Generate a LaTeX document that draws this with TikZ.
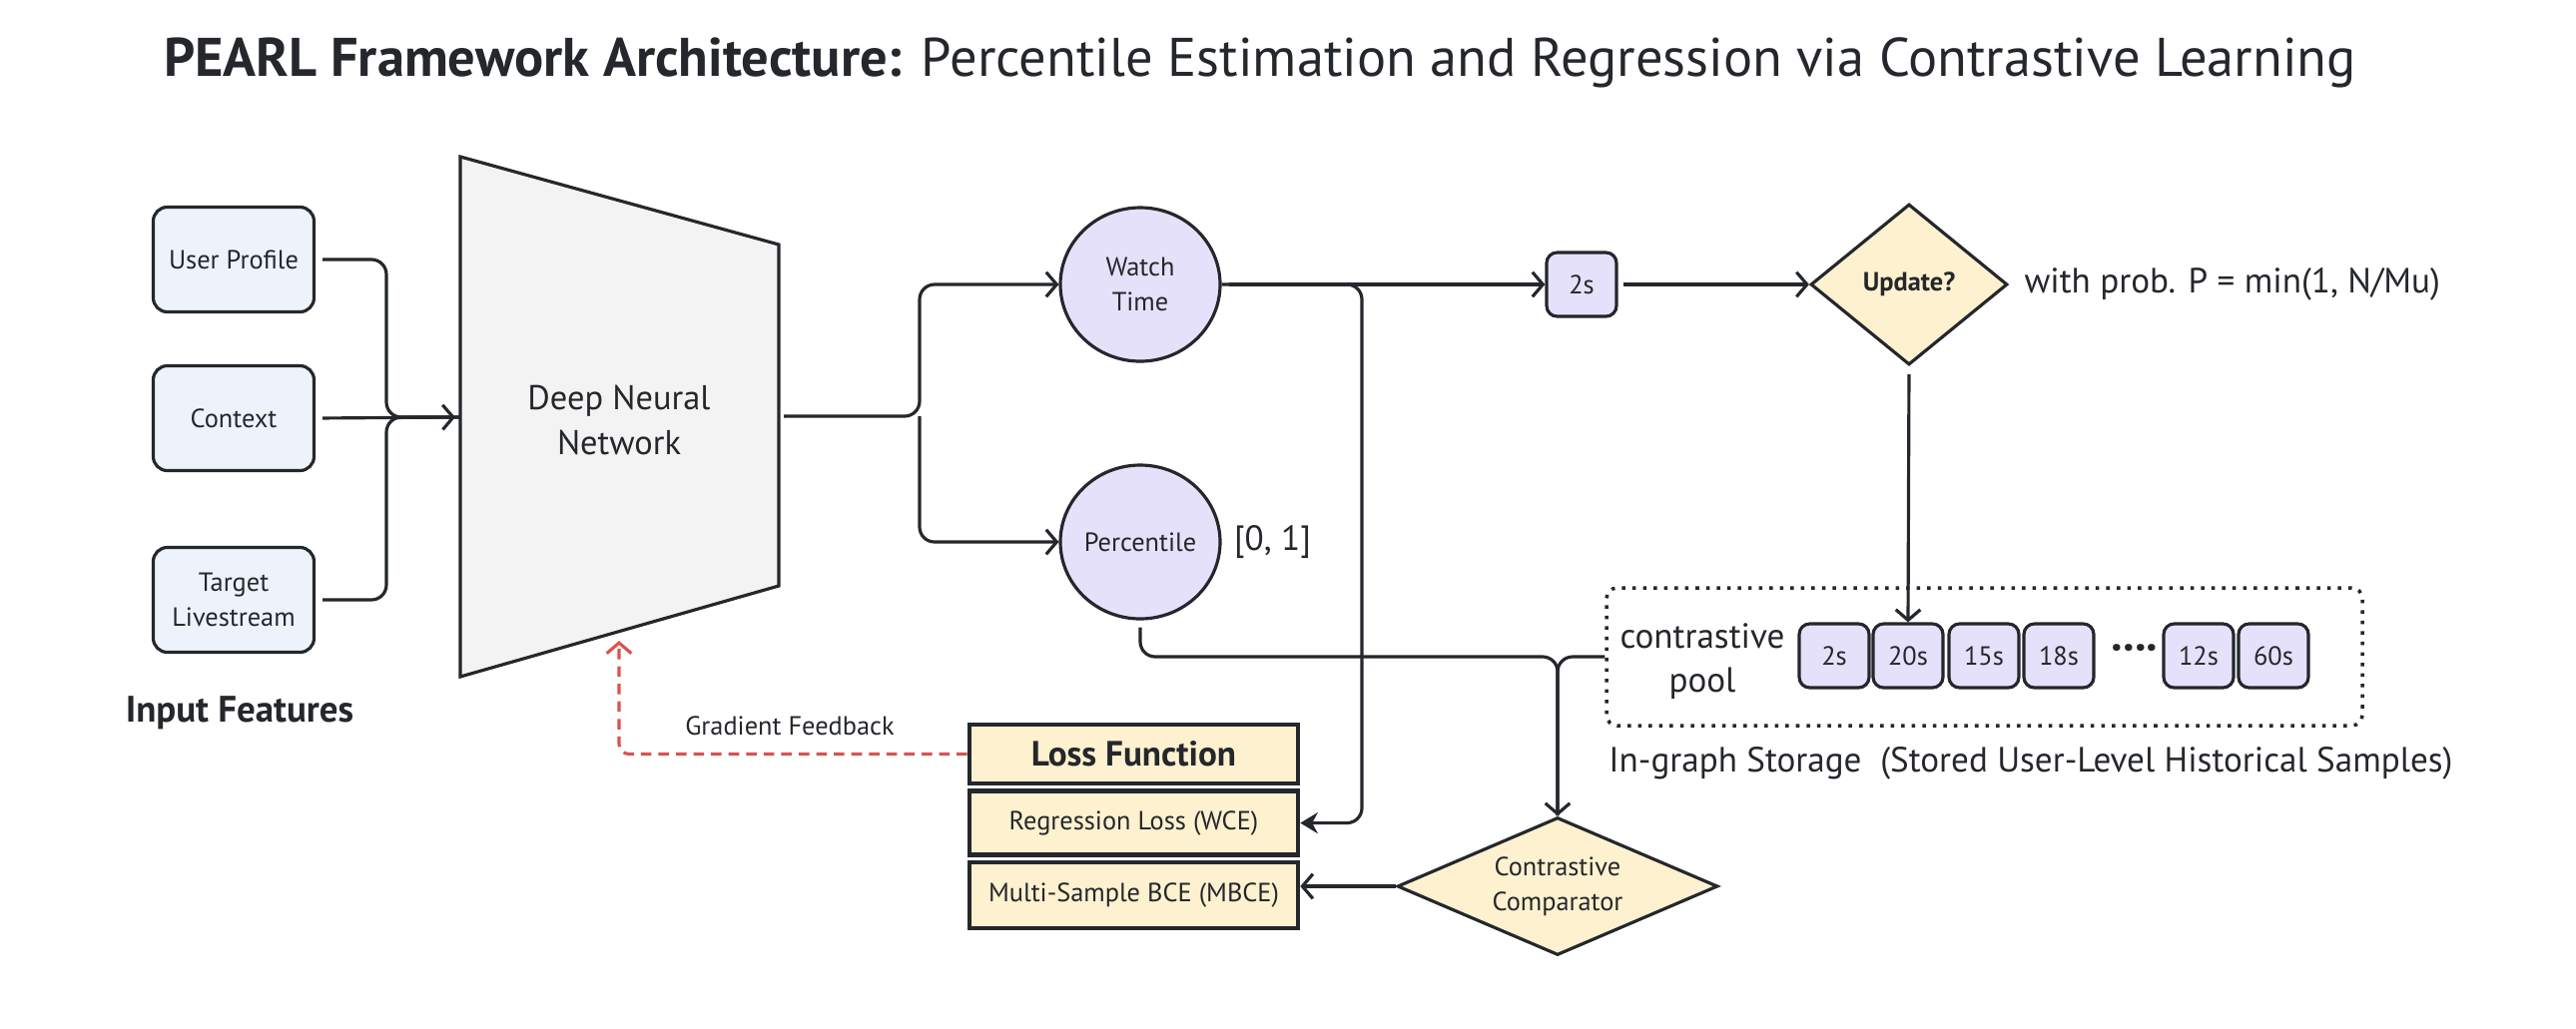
\documentclass[tikz,border=0pt]{standalone}
\usepackage{fontspec}
\setmainfont{PT Sans}
\usepackage{tikz}
\usetikzlibrary{arrows.meta, calc, positioning, shapes.geometric}
\definecolor{ink}{HTML}{24272B}
\definecolor{inputfill}{HTML}{EEF3FB}
\definecolor{headfill}{HTML}{E6E1FA}
\definecolor{decfill}{HTML}{FDF1CF}
\definecolor{dnnfill}{HTML}{F3F3F3}
\definecolor{gradred}{HTML}{D9534F}

\begin{document}
\begin{tikzpicture}[
  inbox/.style    = {draw=ink, fill=inputfill, rounded corners=4pt, line width=0.9pt, minimum width=1.61cm, minimum height=1.05cm, align=center, font=\fontsize{7.5}{10}\selectfont, text=ink},
  outcirc/.style  = {ellipse, draw=ink, fill=headfill, line width=0.9pt, minimum width=1.6cm, minimum height=1.54cm, inner sep=0pt, align=center, font=\fontsize{7.5}{10}\selectfont, text=ink},
  tagbox/.style   = {draw=ink, fill=headfill, rounded corners=3pt, line width=0.9pt, minimum width=0.7cm, minimum height=0.64cm, inner sep=0pt, font=\fontsize{7.5}{9}\selectfont, text=ink},
  decision/.style = {diamond, draw=ink, fill=decfill, line width=0.9pt, inner sep=0pt, align=center, font=\fontsize{7.5}{10}\selectfont, text=ink},
  lossbox/.style  = {draw=ink, fill=decfill, line width=1.3pt, minimum width=3.29cm, inner sep=0pt, font=\fontsize{7.5}{9}\selectfont, text=ink},
  arr/.style      = {-{Straight Barb[length=3pt,width=7pt]}, line width=0.9pt, draw=ink},
  arrfill/.style  = {-{Stealth[length=5pt,width=6pt]}, line width=0.9pt, draw=ink},
  wire/.style     = {line width=0.9pt, draw=ink},
  lbl/.style      = {font=\fontsize{10}{12.5}\selectfont, text=ink, align=center},
]
\useasboundingbox (0,0) rectangle (25.8,-10.3);

% title
\node[font=\fontsize{15.5}{19}\selectfont, text=ink] (title) at (12.62,-0.63) {\textbf{PEARL Framework Architecture:} Percentile Estimation and Regression via Contrastive Learning};

% inputs
\node[inbox] (user) at (2.34,-2.60) {User Profile};
\node[inbox] (ctx) at (2.34,-4.19) {Context};
\node[inbox] (target) at (2.34,-6.01) {Target\\Livestream};
\node[lbl, font=\fontsize{10.5}{12}\selectfont\bfseries] (inlbl) at (2.40,-7.14) {Input Features};

% network
\coordinate (tl) at (4.61,-1.57);
\coordinate (tr) at (7.80,-2.45);
\coordinate (br) at (7.80,-5.87);
\coordinate (bl) at (4.61,-6.78);
\draw[fill=dnnfill, draw=ink, line width=0.9pt] (tl) -- (tr) -- (br) -- (bl) -- cycle;
\node[lbl, font=\fontsize{9.8}{13}\selectfont] (dnn) at (6.20,-4.21) {Deep Neural\\Network};
\coordinate (dnnin) at (4.61,-4.18);
\coordinate (dnnout) at (7.80,-4.17);
\coordinate (join) at (3.87,-4.18);
\coordinate (gradin) at (6.20,-6.42);

\draw[wire, rounded corners=0.15cm, shorten <=0.07cm] (user.east) -| (join) -- (dnnin);
\draw[wire, rounded corners=0.15cm, shorten <=0.07cm] (target.east) -| (join) -- (dnnin);
\draw[arr, shorten <=0.07cm, shorten >=0.05cm] (ctx.east) -- (dnnin);

% heads
\node[outcirc] (watch) at (11.42,-2.85) {Watch\\Time};
\node[outcirc] (perc) at (11.42,-5.43) {Percentile};
\node[lbl, right=0cm of perc] (range) {[0, 1]};
\coordinate (split) at (9.21,-4.17);
\draw[arr, rounded corners=0.15cm, shorten <=0.05cm] (dnnout) -- (split) |- (watch.west);
\draw[arr, rounded corners=0.15cm] (split) |- (perc.west);

% update path
\node[tagbox] (cur) at (15.84,-2.85) {2s};
\node[decision, minimum width=1.97cm, minimum height=1.61cm, font=\fontsize{7.5}{10}\selectfont\bfseries] (upd) at (19.12,-2.85) {Update?};
\node[lbl, right=0.03cm of upd] (prob) {with prob. P = min(1, N/Mu)};
\coordinate (tap) at (13.64,-2.85);
\draw[arr, shorten <=0.07cm] (watch.east) -- (cur.west);
\draw[arr, shorten <=0.05cm] (cur.east) -- (upd.west);

% contrastive pool
\node[draw=ink, dotted, line width=1pt, rounded corners=3pt, minimum width=7.57cm, minimum height=1.38cm] (pool) at (19.875,-6.58) {};
\node[lbl] (poollbl) at (17.05,-6.63) {contrastive\\pool};
\foreach \name/\val/\x in {p1/2s/18.37, p2/20s/19.11, p3/15s/19.87, p4/18s/20.62, p5/12s/22.02, p6/60s/22.77}
  \node[tagbox] (\name) at (\x,-6.57) {\val};
\node[lbl, font=\fontsize{13}{14}\selectfont\bfseries] (dots) at (21.38,-6.55) {····};
\node[lbl, anchor=west] (storage) at (15.99,-7.65) {In-graph Storage\ \ (Stored User-Level Historical Samples)};
\draw[arr, shorten <=0.08cm] (upd.south) -- (p2.north);

% loss function
\node[lossbox, minimum height=0.59cm, font=\fontsize{10}{12}\selectfont\bfseries] (head) at (11.355,-7.555) {Loss Function};
\node[lossbox, minimum height=0.64cm, below=0.03cm of head] (reg) {Regression Loss (WCE)};
\node[lossbox, minimum height=0.66cm, below=0.03cm of reg] (mbce) {Multi-Sample BCE (MBCE)};

% comparator
\node[decision, aspect=2.3, minimum width=3.21cm, minimum height=1.38cm] (cmp) at (15.60,-8.88) {Contrastive\\Comparator};
\coordinate (merge) at (cmp.north |- pool.west);
\draw[wire, rounded corners=0.15cm, shorten <=0.07cm] (perc.south) |- (merge) -- (cmp.north);
\draw[arr, rounded corners=0.15cm] (pool.west) -- (merge) -- (cmp.north);
\draw[arr] (cmp.west) -- (cmp.west -| mbce.east);
\draw[arrfill, rounded corners=0.15cm] (watch.east) -- (tap) |- (reg.east);

% gradient feedback
\draw[gradred, densely dashed, line width=0.9pt, rounded corners=0.1cm, -{Straight Barb[length=3pt,width=7pt]}] (head.west) -| (gradin);
\node[lbl, font=\fontsize{7.5}{9}\selectfont] (gradlbl) at (7.91,-7.27) {Gradient Feedback};
\end{tikzpicture}
\end{document}
